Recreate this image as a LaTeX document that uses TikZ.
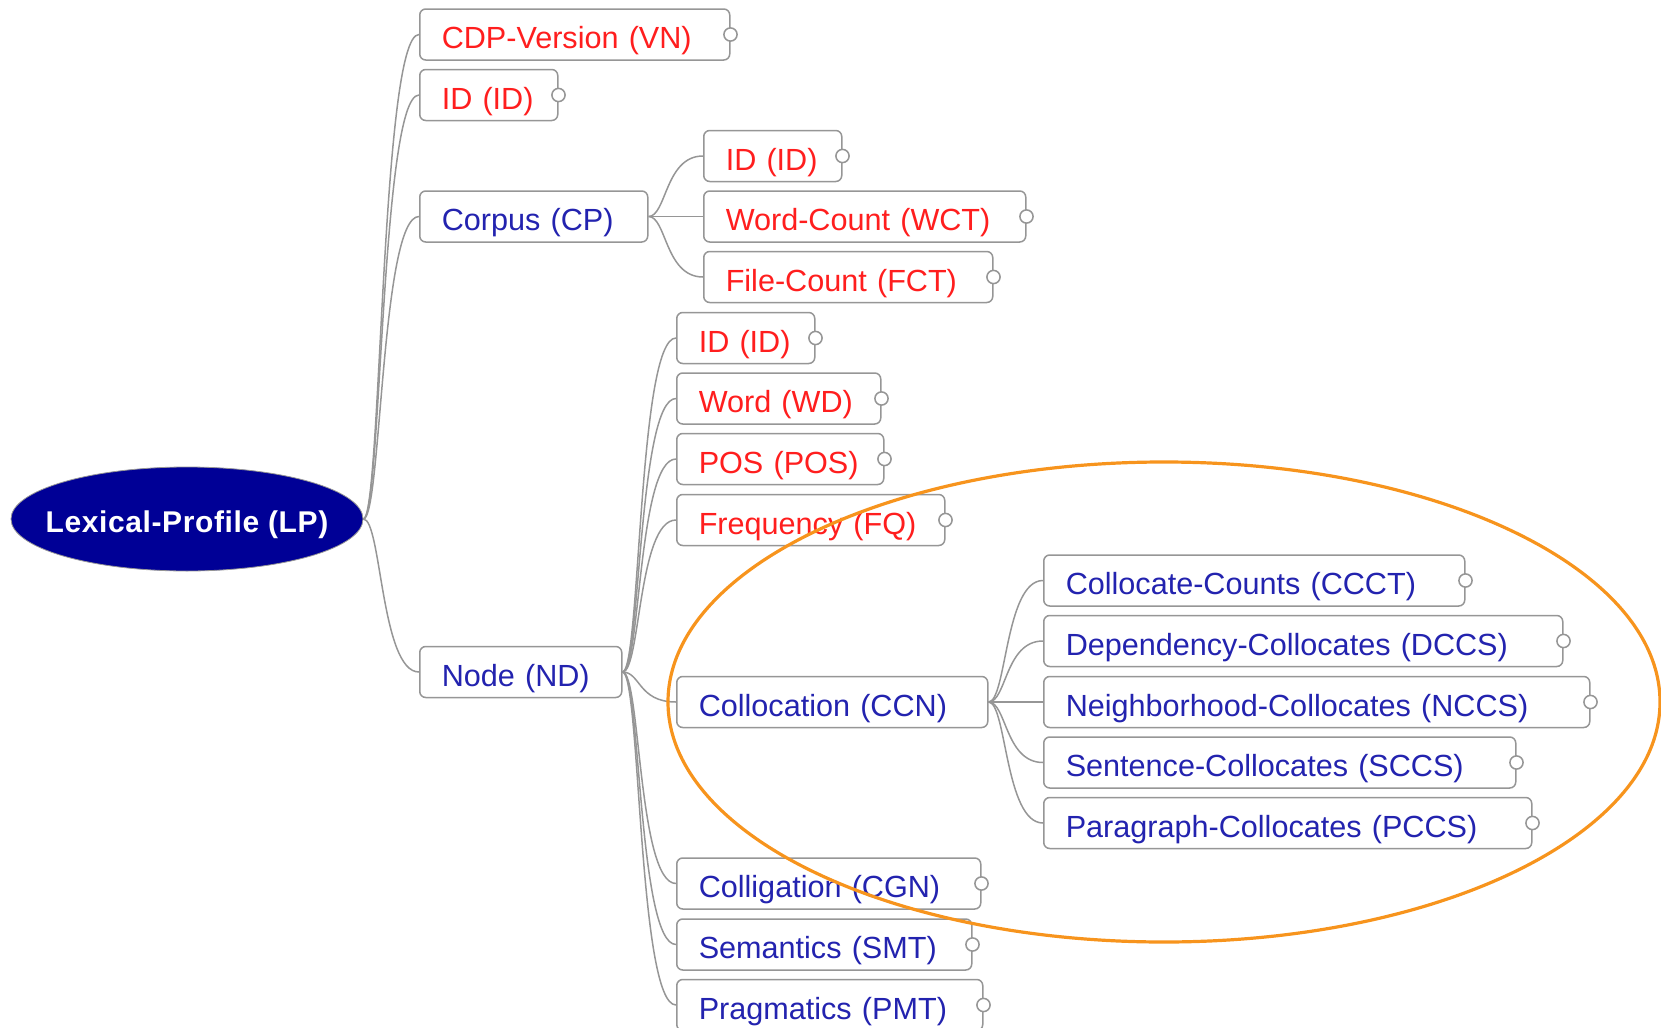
\documentclass[tikz,border=0pt]{standalone}
\usepackage{fontspec}
\setmainfont{Liberation Sans}
\usepackage{tikz}
\usetikzlibrary{shapes.geometric}

\definecolor{mapred}{RGB}{255,30,30}
\definecolor{mapblue}{RGB}{35,35,175}
\definecolor{mapnavy}{RGB}{0,0,150}
\definecolor{mapgray}{RGB}{150,150,150}
\definecolor{ringorange}{RGB}{247,148,29}

\begin{document}
\begin{tikzpicture}[x=0.5pt, y=-0.5pt,
  topic/.style = {shape=rectangle, draw=mapgray, line width=0.75pt,
    rounded corners=3pt, fill=white, anchor=west, minimum height=25.5pt,
    inner xsep=11pt, inner ysep=0pt, text width=#1, align=left,
    text height=14pt, text depth=0pt,
    font=\fontsize{15.3}{18}\selectfont},
  attr/.style = {topic=#1, text=mapred},
  sub/.style = {topic=#1, text=mapblue},
  link/.style = {draw=mapgray, line width=0.75pt},
  knob/.style = {draw=mapgray, fill=white, line width=0.75pt}]
  \useasboundingbox (0,0) rectangle (1661,1028);

  \node[ellipse, draw=mapgray, fill=mapnavy, text=white, inner sep=0pt,
    minimum width=176pt, minimum height=52pt, text height=13pt, text depth=0pt,
    font=\fontsize{15}{18}\selectfont\bfseries\addfontfeature{LetterSpace=2}]
    (lp) at (187,519) {\makebox[0pt]{Lexical-Profile (LP)}};

  \node[attr=133pt] (vn) at (419,34.5) {CDP-Version (VN)};
  \node[attr=47pt] (id) at (419,95) {ID (ID)};
  \node[sub=92pt] (cp) at (419,216.5) {Corpus (CP)};
  \node[sub=79pt] (nd) at (419,672) {Node (ND)};

  \node[attr=47pt] (cpid) at (703,156) {ID (ID)};
  \node[attr=139pt] (wct) at (703,216.5) {Word-Count (WCT)};
  \node[attr=122.5pt] (fct) at (703,277) {File-Count (FCT)};

  \node[attr=47pt] (ndid) at (676,338) {ID (ID)};
  \node[attr=80pt] (wd) at (676,398.5) {Word (WD)};
  \node[attr=81.5pt] (pos) at (676,459) {POS (POS)};
  \node[attr=112pt] (fq) at (676,520) {Frequency (FQ)};
  \node[sub=133.5pt] (ccn) at (676,702) {Collocation (CCN)};
  \node[sub=130pt] (cgn) at (676,883.5) {Colligation (CGN)};
  \node[sub=125.5pt] (smt) at (676,944.5) {Semantics (SMT)};
  \node[sub=131pt] (pmt) at (676,1005) {Pragmatics (PMT)};

  \node[sub=188.5pt] (ccct) at (1043,580.5) {Collocate-Counts (CCCT)};
  \node[sub=237.5pt] (dccs) at (1043,641) {Dependency-Collocates (DCCS)};
  \node[sub=251pt] (nccs) at (1043,702) {Neighborhood-Collocates (NCCS)};
  \node[sub=214pt] (sccs) at (1043,762.5) {Sentence-Collocates (SCCS)};
  \node[sub=222pt] (pccs) at (1043,823) {Paragraph-Collocates (PCCS)};

  % branches
  \foreach \c in {vn,id,cp,nd}
    \draw[link] (lp.east) .. controls +(9pt,0) and +(-19pt,0) .. (\c.west);
  \foreach \c in {cpid,wct,fct}
    \draw[link] (cp.east) .. controls +(9pt,0) and +(-19pt,0) .. (\c.west);
  \foreach \c in {ndid,wd,pos,fq,ccn,cgn,smt,pmt}
    \draw[link] (nd.east) .. controls +(9pt,0) and +(-19pt,0) .. (\c.west);
  \foreach \c in {ccct,dccs,nccs,sccs,pccs}
    \draw[link] (ccn.east) .. controls +(9pt,0) and +(-19pt,0) .. (\c.west);

  \foreach \n in {vn,id,cpid,wct,fct,ndid,wd,pos,fq,cgn,smt,pmt,ccct,dccs,nccs,sccs,pccs}
    \draw[knob] (\n.east) circle (3.3pt);

  \draw[ringorange, line width=1.6pt] (1164,702) ellipse [x radius=248pt, y radius=120pt];
\end{tikzpicture}
\end{document}
